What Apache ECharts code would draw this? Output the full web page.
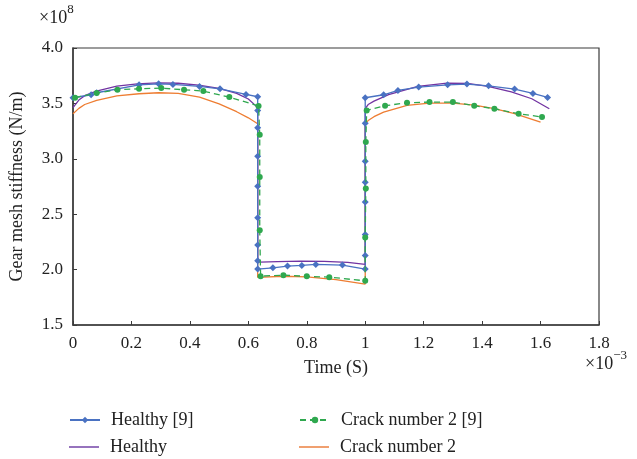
<!DOCTYPE html>
<html>
<head>
<meta charset="utf-8">
<script src="https://cdn.jsdelivr.net/npm/echarts@6/dist/echarts.min.js"></script>
<style>
html,body{margin:0;padding:0;background:#fff;}
#chart{width:637px;height:459px;}
</style>
</head>
<body>
<div id="chart"></div>
<script>
// x values in units of 1e-3 s, y values in units of 1e8 N/m
const xTicks = [0, 0.2, 0.4, 0.6, 0.8, 1, 1.2, 1.4, 1.6, 1.8];
const yTicks = [1.5, 2.0, 2.5, 3.0, 3.5, 4.0];

const healthyRefX = [0, 0.062, 0.081, 0.226, 0.293, 0.342, 0.433, 0.503, 0.592, 0.632, 0.632, 0.632, 0.632, 0.632, 0.632, 0.632, 0.632, 0.632, 0.684, 0.734, 0.783, 0.831, 0.922, 1.0, 1.0, 1.0, 1.0, 1.0, 1.0, 1.0, 1.0, 1.063, 1.112, 1.183, 1.282, 1.348, 1.422, 1.511, 1.574, 1.624];
const healthyRefY = [3.551, 3.578, 3.596, 3.668, 3.677, 3.671, 3.653, 3.632, 3.581, 3.560, 3.437, 3.281, 3.022, 2.752, 2.467, 2.221, 2.079, 2.005, 2.016, 2.032, 2.038, 2.047, 2.041, 2.005, 2.128, 2.317, 2.611, 2.788, 2.977, 3.320, 3.551, 3.578, 3.617, 3.647, 3.668, 3.674, 3.659, 3.629, 3.590, 3.554];

const healthyX = [0, 0.02, 0.04, 0.08, 0.15, 0.22, 0.29, 0.36, 0.43, 0.5, 0.56, 0.6, 0.625, 0.632, 0.632, 0.64, 0.7, 0.78, 0.86, 0.94, 1.0, 1.0, 1.01, 1.03, 1.08, 1.18, 1.28, 1.35, 1.42, 1.5, 1.57, 1.63];
const healthyY = [3.461, 3.53, 3.57, 3.611, 3.655, 3.677, 3.686, 3.682, 3.665, 3.635, 3.59, 3.54, 3.48, 3.45, 2.07, 2.068, 2.072, 2.077, 2.075, 2.065, 2.047, 3.452, 3.49, 3.52, 3.58, 3.653, 3.683, 3.68, 3.653, 3.605, 3.542, 3.452];

const crackRefX = [0.007, 0.081, 0.152, 0.226, 0.302, 0.380, 0.446, 0.535, 0.635, 0.639, 0.639, 0.639, 0.642, 0.720, 0.800, 0.877, 1.0, 1.0, 1.002, 1.002, 1.005, 1.068, 1.143, 1.220, 1.300, 1.373, 1.442, 1.525, 1.605];
const crackRefY = [3.551, 3.593, 3.623, 3.632, 3.638, 3.623, 3.611, 3.557, 3.476, 3.218, 2.836, 2.356, 1.941, 1.950, 1.939, 1.932, 1.899, 2.290, 2.732, 3.152, 3.437, 3.479, 3.506, 3.512, 3.512, 3.479, 3.452, 3.407, 3.377];

const crackX = [0, 0.02, 0.04, 0.081, 0.15, 0.226, 0.293, 0.36, 0.433, 0.5, 0.56, 0.6, 0.632, 0.632, 0.635, 0.72, 0.8, 0.9, 1.0, 1.0, 1.01, 1.03, 1.063, 1.143, 1.22, 1.3, 1.373, 1.442, 1.511, 1.6];
const crackY = [3.407, 3.455, 3.49, 3.527, 3.567, 3.587, 3.596, 3.59, 3.557, 3.495, 3.425, 3.37, 3.317, 1.93, 1.93, 1.94, 1.935, 1.91, 1.869, 3.317, 3.345, 3.38, 3.422, 3.482, 3.503, 3.503, 3.485, 3.452, 3.407, 3.332];

const names = ['Healthy [9]', 'Healthy', 'Crack number 2 [9]', 'Crack number 2'];
const colors = ['#4a72c2', '#7234a2', '#2fa84f', '#ee7d32'];
const legendColors = ['#5b7fc6', '#9673bd', '#3cae5a', '#f0a070'];

function zip(xs, ys) { return xs.map((x, i) => [x, ys[i]]); }

const FONT = '"Liberation Serif", "DejaVu Serif", serif';
const chart = echarts.init(document.getElementById('chart'), null, {renderer: 'canvas'});

const legendPos = [[69, 411], [69, 438], [299, 411], [299, 438]];
const legends = names.map((n, i) => {
  const plain = (i === 1 || i === 3);
  const lg = {
    data: [n], left: legendPos[i][0], top: legendPos[i][1], padding: 0,
    itemWidth: 30, itemHeight: plain ? 2 : 8,
    textStyle: {fontFamily: FONT, fontSize: 18, color: '#222', padding: [0, 0, 0, 6]}
  };
  if (plain) { lg.icon = 'rect'; lg.itemStyle = {color: legendColors[i]}; }
  return lg;
});

const supRich = {
  a: {fontFamily: FONT, fontSize: 18, fill: '#222', verticalAlign: 'bottom', lineHeight: 24},
  b: {fontFamily: FONT, fontSize: 13, fill: '#222', verticalAlign: 'top', lineHeight: 24}
};

chart.setOption({
  animation: false,
  backgroundColor: '#fff',
  textStyle: {fontFamily: FONT},
  grid: {left: 73, right: 38, top: 48, bottom: 134, show: true, borderColor: '#3a3a3a', borderWidth: 1.2},
  xAxis: {
    type: 'value', min: 0, max: 1.8, interval: 0.2,
    name: 'Time (S)', nameLocation: 'middle', nameGap: 34,
    nameTextStyle: {fontFamily: FONT, fontSize: 18, color: '#222'},
    axisLine: {show: true, lineStyle: {color: '#3a3a3a', width: 1.5}},
    axisTick: {show: true, inside: true, length: 4, lineStyle: {color: '#3a3a3a'}},
    splitLine: {show: false},
    axisLabel: {fontFamily: FONT, fontSize: 17, color: '#222', margin: 10,
      formatter: v => String(parseFloat(v.toFixed(1)))}
  },
  yAxis: {
    type: 'value', min: 1.5, max: 4.0, interval: 0.5,
    name: 'Gear mesh stiffness (N/m)', nameLocation: 'middle', nameGap: 47,
    nameTextStyle: {fontFamily: FONT, fontSize: 18, color: '#222'},
    axisLine: {show: true, lineStyle: {color: '#3a3a3a', width: 1.5}},
    axisTick: {show: true, inside: true, length: 4, lineStyle: {color: '#3a3a3a'}},
    splitLine: {show: false},
    axisLabel: {fontFamily: FONT, fontSize: 17, color: '#222', margin: 10,
      formatter: v => v.toFixed(1)}
  },
  legend: legends,
  graphic: [
    {type: 'text', left: 39, top: 3, style: {text: '{a|×10}{b|8}', rich: supRich}},
    {type: 'text', left: 585, top: 349, style: {text: '{a|×10}{b|−3}', rich: supRich}}
  ],
  series: [
    {name: names[0], type: 'line', data: zip(healthyRefX, healthyRefY), color: colors[0], symbol: 'diamond', symbolSize: 7, showSymbol: true,
      lineStyle: {width: 1.3, color: colors[0]}, itemStyle: {color: colors[0]}, z: 4},
    {name: names[1], type: 'line', data: zip(healthyX, healthyY), color: colors[1], symbol: 'none', showSymbol: false,
      lineStyle: {width: 1.3, color: colors[1]}, itemStyle: {color: colors[1]}, z: 3},
    {name: names[2], type: 'line', data: zip(crackRefX, crackRefY), color: colors[2], symbol: 'circle', symbolSize: 6, showSymbol: true,
      lineStyle: {width: 1.3, color: colors[2], type: [6, 4]}, itemStyle: {color: colors[2]}, z: 5},
    {name: names[3], type: 'line', data: zip(crackX, crackY), color: colors[3], symbol: 'none', showSymbol: false,
      lineStyle: {width: 1.3, color: colors[3]}, itemStyle: {color: colors[3]}, z: 2}
  ]
});
</script>
</body>
</html>
